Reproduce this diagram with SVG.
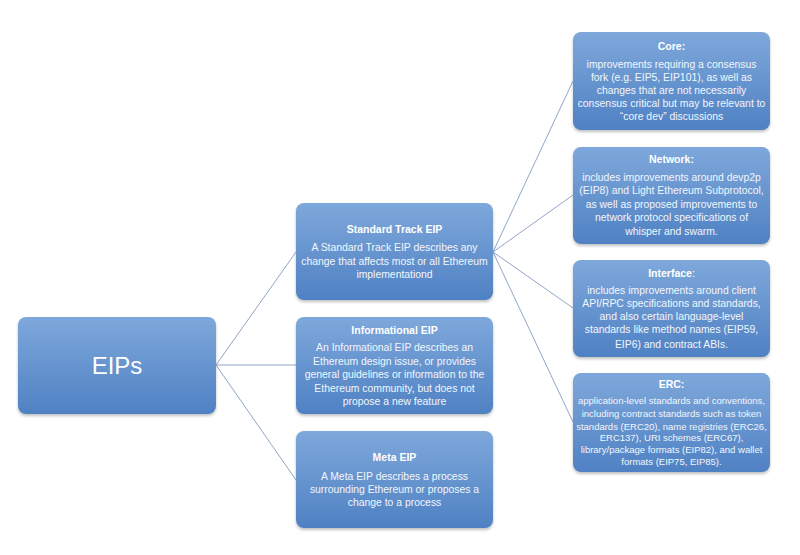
<svg xmlns="http://www.w3.org/2000/svg" width="800" height="555" viewBox="0 0 800 555">
<defs>
<linearGradient id="g" x1="0" y1="0" x2="0" y2="1">
<stop offset="0" stop-color="#7EA8DB"/>
<stop offset="1" stop-color="#4F81C3"/>
</linearGradient>
<filter id="sh" x="-10%" y="-10%" width="120%" height="130%">
<feGaussianBlur in="SourceAlpha" stdDeviation="1.5"/>
<feOffset dy="1.5"/>
<feComponentTransfer><feFuncA type="linear" slope="0.25"/></feComponentTransfer>
<feMerge><feMergeNode/><feMergeNode in="SourceGraphic"/></feMerge>
</filter>
</defs>
<style>
.box{fill:url(#g);filter:url(#sh)}
text{font-family:"Liberation Sans","Noto Sans",Arial,sans-serif;fill:#fff;text-anchor:middle}
.t{font-size:10.5px;font-weight:bold}
.b{font-size:10.4px;fill:#F2F6FC}
.s{font-size:9.5px;fill:#F2F6FC}
.big{font-size:24px}
.c{stroke:#8FA6C9;stroke-width:1;fill:none}
</style>
<rect width="800" height="555" fill="#fff"/>
<g id="connectors">
<line class="c" x1="216" y1="365" x2="296" y2="252"/>
<line class="c" x1="216" y1="365" x2="296" y2="365"/>
<line class="c" x1="216" y1="365" x2="296" y2="480"/>
<line class="c" x1="493" y1="252" x2="573" y2="81"/>
<line class="c" x1="493" y1="252" x2="573" y2="195"/>
<line class="c" x1="493" y1="252" x2="573" y2="308"/>
<line class="c" x1="493" y1="252" x2="573" y2="422"/>
</g>
<g id="eips">
<rect class="box" x="18" y="317" width="198" height="97" rx="8"/>
<text class="big" x="117" y="374">EIPs</text>
</g>
<g id="standard">
<rect class="box" x="296" y="203" width="197" height="97" rx="8"/>
<text class="t" x="394.5" y="233">Standard Track EIP</text>
<text class="b" x="394.5" y="251">A Standard Track EIP describes any</text>
<text class="b" x="394.5" y="265">change that affects most or all Ethereum</text>
<text class="b" x="394.5" y="278">implementationd</text>
</g>
<g id="informational">
<rect class="box" x="296" y="317" width="197" height="97" rx="8"/>
<text class="t" x="394.5" y="334">Informational EIP</text>
<text class="b" x="394.5" y="351">An Informational EIP describes an</text>
<text class="b" x="394.5" y="365">Ethereum design issue, or provides</text>
<text class="b" x="394.5" y="378">general guidelines or information to the</text>
<text class="b" x="394.5" y="392">Ethereum community, but does not</text>
<text class="b" x="394.5" y="405">propose  a new feature</text>
</g>
<g id="meta">
<rect class="box" x="296" y="431" width="197" height="97" rx="8"/>
<text class="t" x="394.5" y="461">Meta EIP</text>
<text class="b" x="394.5" y="480">A Meta EIP describes a process</text>
<text class="b" x="394.5" y="493">surrounding Ethereum or proposes a</text>
<text class="b" x="394.5" y="506">change to a process</text>
</g>
<g id="core">
<rect class="box" x="573" y="32" width="197" height="98" rx="8"/>
<text class="t" x="671.5" y="50">Core:</text>
<text class="b" x="671.5" y="68">improvements requiring a consensus</text>
<text class="b" x="671.5" y="81">fork (e.g. EIP5, EIP101), as well as</text>
<text class="b" x="671.5" y="94">changes that are not necessarily</text>
<text class="b" x="671.5" y="107">consensus critical but may be relevant to</text>
<text class="b" x="671.5" y="120">“core dev”    discussions</text>
</g>
<g id="network">
<rect class="box" x="573" y="147" width="197" height="97" rx="8"/>
<text class="t" x="671.5" y="163">Network:</text>
<text class="b" x="671.5" y="181">includes improvements around devp2p</text>
<text class="b" x="671.5" y="194">(EIP8) and Light Ethereum Subprotocol,</text>
<text class="b" x="671.5" y="208">as well as proposed  improvements to</text>
<text class="b" x="671.5" y="221">network protocol  specifications of</text>
<text class="b" x="671.5" y="235">whisper and swarm.</text>
</g>
<g id="interface">
<rect class="box" x="573" y="260" width="197" height="97" rx="8"/>
<text class="t" x="671.5" y="277">Interface<tspan font-weight="normal">:</tspan></text>
<text class="b" x="671.5" y="294">includes improvements around client</text>
<text class="b" x="671.5" y="307">API/RPC specifications and standards,</text>
<text class="b" x="671.5" y="320">and also certain language-level</text>
<text class="b" x="671.5" y="333">standards like method names (EIP59,</text>
<text class="b" x="671.5" y="348">EIP6) and contract  ABIs.</text>
</g>
<g id="erc">
<rect class="box" x="573" y="373" width="197" height="99" rx="8"/>
<text class="t" x="671.5" y="388">ERC:</text>
<text class="s" x="671.5" y="404">application-level standards and conventions,</text>
<text class="s" x="671.5" y="417">including contract standards such as token</text>
<text class="s" x="671.5" y="430">standards (ERC20), name registries (ERC26,</text>
<text class="s" x="671.5" y="441">ERC137), URI schemes (ERC67),</text>
<text class="s" x="671.5" y="453">library/package formats (EIP82), and wallet</text>
<text class="s" x="671.5" y="465">formats (EIP75, EIP85).</text>
</g>
</svg>
